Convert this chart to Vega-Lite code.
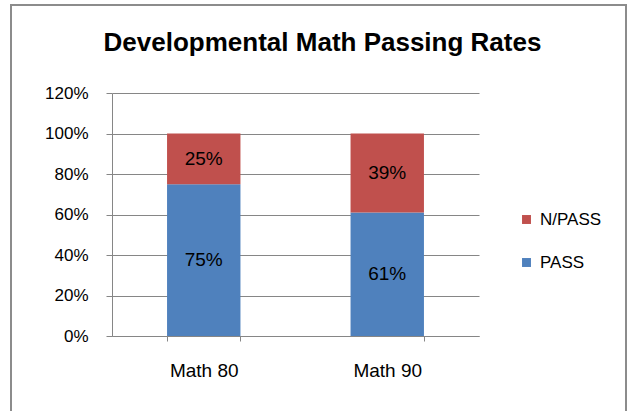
{
  "$schema": "https://vega.github.io/schema/vega-lite/v6.json",
  "width": 615,
  "height": 410,
  "autosize": "none",
  "padding": {"left": 11, "top": 5, "right": 5, "bottom": 0},
  "background": "white",
  "config": {
    "view": {"stroke": "#8c8c8c", "strokeWidth": 2},
    "font": "Liberation Sans"
  },
  "title": {
    "text": "Developmental Math Passing Rates",
    "fontSize": 26,
    "fontWeight": "bold",
    "color": "black",
    "anchor": "middle",
    "frame": "group",
    "orient": "top",
    "offset": -51,
    "baseline": "top",
    "dx": 4
  },
  "data": {
    "values": [
      {"course": "Math 80", "status": "PASS", "value": 0.75},
      {"course": "Math 80", "status": "N/PASS", "value": 0.25},
      {"course": "Math 90", "status": "PASS", "value": 0.61},
      {"course": "Math 90", "status": "N/PASS", "value": 0.39}
    ]
  },
  "encoding": {
    "x": {
      "field": "course",
      "type": "nominal",
      "scale": {"type": "band", "range": [101, 468], "paddingInner": 0.6, "paddingOuter": 0.3},
      "axis": {
        "title": null,
        "offset": -79,
        "labelAngle": 0,
        "labelFontSize": 19,
        "labelColor": "black",
        "labelPadding": 20,
        "domainColor": "#868686",
        "tickColor": "#868686",
        "tickSize": 5,
        "tickBand": "extent",
        "grid": false
      }
    }
  },
  "layer": [
    {
      "mark": {"type": "bar", "strokeWidth": 0},
      "encoding": {
        "y": {
          "field": "value",
          "type": "quantitative",
          "stack": "zero",
          "scale": {"domain": [0, 1.2], "range": [331, 88], "nice": false, "zero": true},
          "axis": {
            "title": null,
            "offset": -101,
            "values": [0, 0.2, 0.4, 0.6, 0.8, 1.0, 1.2],
            "format": ".0%",
            "labelFontSize": 17,
            "labelColor": "black",
            "labelPadding": 18,
            "domainColor": "#868686",
            "tickColor": "#868686",
            "tickSize": 6,
            "grid": true,
            "gridColor": "#868686",
            "gridWidth": 1
          }
        },
        "order": {"field": "status", "sort": "descending"},
        "color": {
          "field": "status",
          "type": "nominal",
          "scale": {"domain": ["N/PASS", "PASS"], "range": ["#C0504D", "#4F81BD"]},
          "legend": {
            "title": null,
            "orient": "none",
            "legendX": 507,
            "legendY": 206,
            "symbolType": "square",
            "symbolSize": 80,
            "symbolStrokeWidth": 0,
            "symbolOpacity": 1,
            "labelFontSize": 17,
            "labelColor": "black",
            "labelOffset": 5,
            "rowPadding": 25,
            "padding": 0
          }
        }
      }
    },
    {
      "transform": [
        {"stack": "value", "groupby": ["course"], "as": ["v0", "v1"], "sort": [{"field": "status", "order": "descending"}]},
        {"fold": ["v0", "v1"], "as": ["edge", "pos"]},
        {"aggregate": [{"op": "mean", "field": "pos", "as": "mid"}], "groupby": ["course", "status", "value"]}
      ],
      "mark": {"type": "text", "fontSize": 19, "color": "black", "baseline": "middle"},
      "encoding": {
        "y": {"field": "mid", "type": "quantitative", "stack": null},
        "text": {"field": "value", "type": "quantitative", "format": ".0%"}
      }
    }
  ]
}
